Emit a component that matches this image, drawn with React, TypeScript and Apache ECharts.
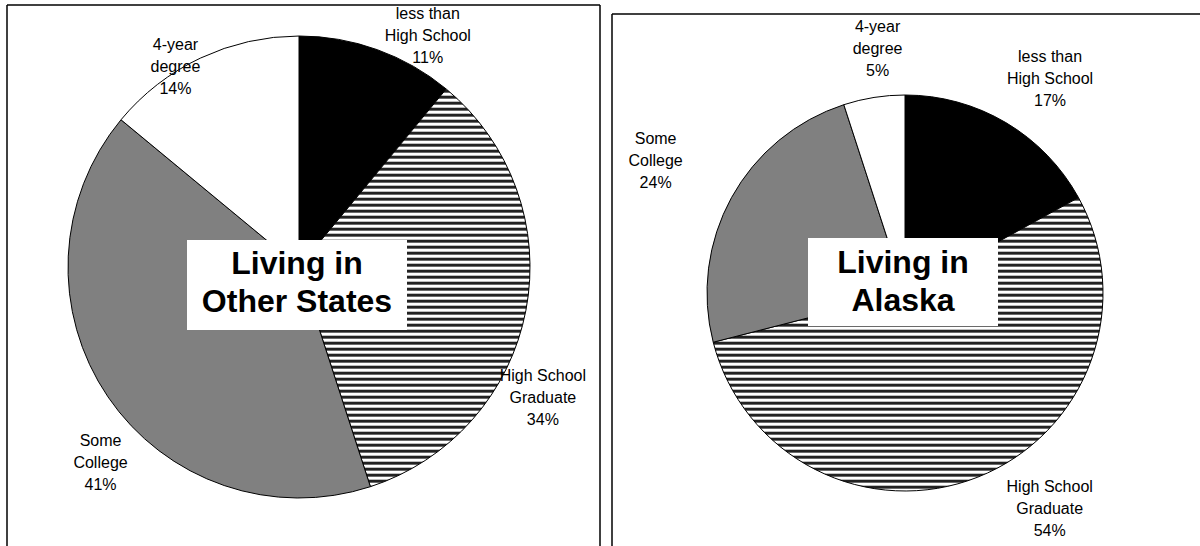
import React, { useEffect, useRef } from "react";
import * as echarts from "echarts";

const categories = ["less than\nHigh School", "High School\nGraduate", "Some\nCollege", "4-year\ndegree"];
const otherStatesValues = [11, 34, 41, 14];
const alaskaValues = [17, 54, 24, 5];
const panelTitles = ["Living in\nOther States", "Living in\nAlaska"];

// label nudges relative to ECharts' own outside placement (per series, per slice)
const labelNudges = [
  [[-21, -5], [-61, 85], [53, 60], [29, 18]],
  [[-29, -35], [0, 22], [-15, -32], [55, -39]],
];

function makeStripes() {
  const c = document.createElement("canvas");
  c.width = 6;
  c.height = 6;
  const ctx = c.getContext("2d")!;
  const rows = ["#222222", "#222222", "#6a6a6a", "#ffffff", "#ffffff", "#bdbdbd"];
  rows.forEach((col, i) => {
    ctx.fillStyle = col;
    ctx.fillRect(0, i, 6, 1);
  });
  return c;
}

export default function App() {
  const ref = useRef<HTMLDivElement>(null);
  useEffect(() => {
    if (!ref.current) return;
    const chart = echarts.init(ref.current, null, { renderer: "svg" });
    const stripes = { image: makeStripes(), repeat: "repeat", imageWidth: 6, imageHeight: 6 } as any;
    const fills = ["#000000", stripes, "#808080", "#ffffff"];
    const font = "'Liberation Sans', Arial, sans-serif";
    const mk = (vals: number[]) =>
      vals.map((v, i) => ({ name: categories[i], value: v, itemStyle: { color: fills[i] } }));
    const labelCfg = {
      show: true,
      position: "outside",
      formatter: (p: any) => `${p.name}\n${p.value}%`,
      fontSize: 16,
      lineHeight: 22,
      color: "#000",
      fontFamily: font,
    };
    const layout = (s: number) => (p: any) => {
      const r = p.labelRect;
      const n = labelNudges[s][p.dataIndex];
      return {
        x: r.x + r.width / 2 + n[0],
        y: r.y + r.height / 2 + n[1],
        align: "center",
        verticalAlign: "middle",
      };
    };
    chart.setOption({
      animation: false,
      backgroundColor: "#ffffff",
      series: [
        {
          type: "pie",
          center: [299, 267],
          radius: 231,
          startAngle: 90,
          clockwise: true,
          data: mk(otherStatesValues),
          itemStyle: { borderColor: "#000", borderWidth: 1 },
          label: labelCfg,
          labelLine: { show: false, length: 10, length2: 20 },
          labelLayout: layout(0),
          emphasis: { disabled: true },
        },
        {
          type: "pie",
          center: [905, 293],
          radius: 198,
          startAngle: 90,
          clockwise: true,
          data: mk(alaskaValues),
          itemStyle: { borderColor: "#000", borderWidth: 1 },
          label: labelCfg,
          labelLine: { show: false, length: 10, length2: 20 },
          labelLayout: layout(1),
          emphasis: { disabled: true },
        },
      ],
      graphic: [
        { type: "line", shape: { x1: 7, y1: 5, x2: 600, y2: 5 }, style: { stroke: "#000", lineWidth: 1.5 } },
        { type: "line", shape: { x1: 7, y1: 5, x2: 7, y2: 546 }, style: { stroke: "#000", lineWidth: 1.5 } },
        { type: "line", shape: { x1: 600, y1: 5, x2: 600, y2: 546 }, style: { stroke: "#000", lineWidth: 1.5 } },
        { type: "line", shape: { x1: 612, y1: 14, x2: 1200, y2: 14 }, style: { stroke: "#000", lineWidth: 1.5 } },
        { type: "line", shape: { x1: 612, y1: 14, x2: 612, y2: 546 }, style: { stroke: "#000", lineWidth: 1.5 } },
        { type: "rect", shape: { x: 187, y: 240, width: 220, height: 90 }, style: { fill: "#fff" }, z: 100 },
        {
          type: "text", x: 297, y: 282, z: 101,
          style: { text: panelTitles[0], fill: "#000", font: `bold 32px ${font}`, align: "center", verticalAlign: "middle", lineHeight: 38 },
        },
        { type: "rect", shape: { x: 808, y: 238, width: 190, height: 88 }, style: { fill: "#fff" }, z: 100 },
        {
          type: "text", x: 903, y: 281, z: 101,
          style: { text: panelTitles[1], fill: "#000", font: `bold 32px ${font}`, align: "center", verticalAlign: "middle", lineHeight: 38 },
        },
      ],
    });
    return () => chart.dispose();
  }, []);
  return <div ref={ref} style={{ position: "absolute", left: 0, top: 0, width: 1200, height: 546 }} />;
}
